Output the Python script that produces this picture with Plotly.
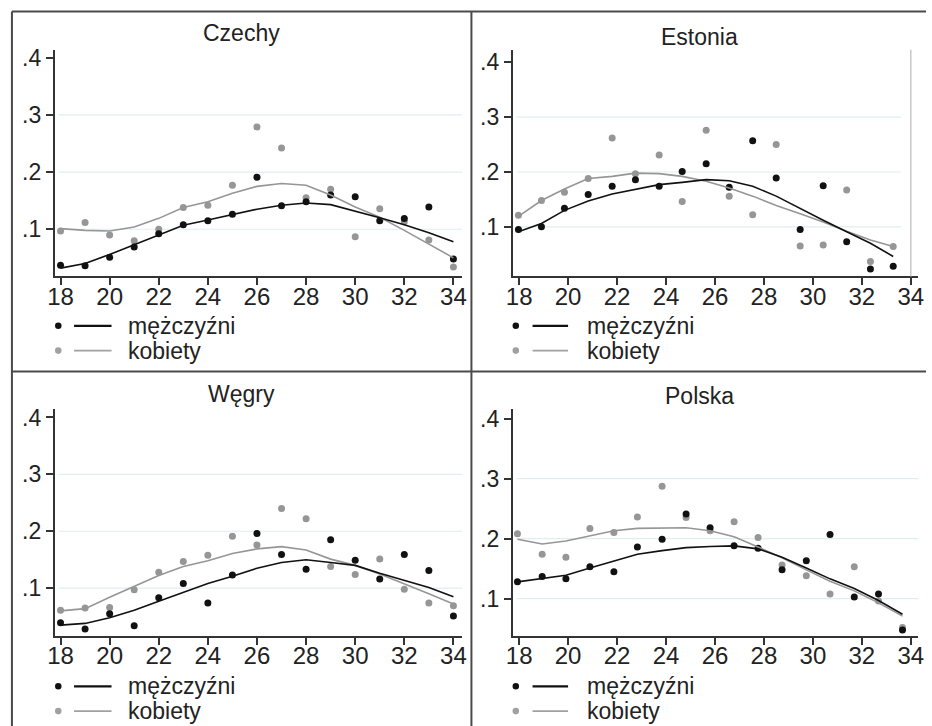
import plotly.graph_objects as go

W, H = 932, 726

# ---------------- data ----------------
panel_titles = ["Czechy", "Estonia", "Węgry", "Polska"]
legend_labels = ["mężczyźni", "kobiety"]
x_ticks = [18, 20, 22, 24, 26, 28, 30, 32, 34]
y_ticks = [0.1, 0.2, 0.3, 0.4]
y_tick_text = [".1", ".2", ".3", ".4"]
grid_vals = [0.1, 0.2, 0.3]

age_int = [18, 19, 20, 21, 22, 23, 24, 25, 26, 27, 28, 29, 30, 31, 32, 33, 34]
age_est = [17.97, 18.91, 19.85, 20.82, 21.80, 22.75, 23.72, 24.66, 25.64, 26.58,
           27.54, 28.50, 29.48, 30.42, 31.38, 32.35, 33.28]
age_pol = [17.93, 18.94, 19.91, 20.89, 21.87, 22.83, 23.84, 24.82, 25.80, 26.78,
           27.76, 28.74, 29.73, 30.70, 31.69, 32.68, 33.66]

cz_men = [0.037, 0.036, 0.051, 0.069, 0.092, 0.108, 0.115, 0.126, 0.191, 0.141,
          0.148, 0.160, 0.157, 0.115, 0.119, 0.139, 0.048]
cz_women = [0.097, 0.112, 0.090, 0.080, 0.100, 0.138, 0.142, 0.177, 0.279, 0.242,
            0.155, 0.170, 0.087, 0.136, 0.113, 0.081, 0.034]
cz_men_fit = [0.032, 0.040, 0.056, 0.073, 0.091, 0.107, 0.116, 0.126, 0.135, 0.142,
              0.146, 0.143, 0.132, 0.120, 0.108, 0.094, 0.078]
cz_women_fit = [0.101, 0.098, 0.097, 0.104, 0.119, 0.138, 0.148, 0.163, 0.175, 0.180,
                0.177, 0.160, 0.139, 0.121, 0.098, 0.074, 0.050]

ee_men = [0.095, 0.100, 0.134, 0.159, 0.174, 0.186, 0.174, 0.201, 0.215, 0.172,
          0.257, 0.189, 0.095, 0.175, 0.073, 0.023, 0.028]
ee_women = [0.121, 0.148, 0.163, 0.188, 0.262, 0.197, 0.231, 0.146, 0.276, 0.156,
            0.122, 0.250, 0.065, 0.067, 0.167, 0.037, 0.064]
ee_men_fit = [0.091, 0.106, 0.130, 0.147, 0.160, 0.168, 0.177, 0.181, 0.186, 0.184,
              0.174, 0.156, 0.133, 0.112, 0.091, 0.070, 0.046]
ee_women_fit = [0.119, 0.148, 0.169, 0.188, 0.192, 0.198, 0.197, 0.192, 0.183, 0.171,
                0.156, 0.139, 0.124, 0.109, 0.092, 0.076, 0.064]

hu_men = [0.039, 0.028, 0.055, 0.034, 0.083, 0.108, 0.074, 0.123, 0.196, 0.159,
          0.133, 0.185, 0.149, 0.116, 0.159, 0.131, 0.051]
hu_women = [0.061, 0.065, 0.066, 0.097, 0.128, 0.147, 0.158, 0.191, 0.176, 0.240,
            0.222, 0.138, 0.124, 0.151, 0.098, 0.074, 0.069]
hu_men_fit = [0.035, 0.038, 0.048, 0.061, 0.077, 0.093, 0.108, 0.121, 0.135, 0.145,
              0.150, 0.145, 0.140, 0.126, 0.113, 0.101, 0.085]
hu_women_fit = [0.060, 0.064, 0.084, 0.103, 0.122, 0.138, 0.148, 0.161, 0.169, 0.173,
                0.167, 0.151, 0.140, 0.125, 0.108, 0.090, 0.072]

pl_men = [0.128, 0.137, 0.133, 0.153, 0.145, 0.186, 0.199, 0.241, 0.218, 0.188,
          0.184, 0.148, 0.163, 0.207, 0.103, 0.108, 0.048]
pl_women = [0.208, 0.174, 0.169, 0.217, 0.210, 0.236, 0.287, 0.235, 0.213, 0.228,
            0.202, 0.156, 0.138, 0.108, 0.153, 0.096, 0.052]
pl_men_fit = [0.128, 0.134, 0.139, 0.151, 0.163, 0.174, 0.180, 0.185, 0.187, 0.188,
              0.183, 0.169, 0.151, 0.133, 0.117, 0.097, 0.074]
pl_women_fit = [0.199, 0.191, 0.196, 0.205, 0.213, 0.217, 0.218, 0.218, 0.213, 0.203,
                0.186, 0.168, 0.148, 0.129, 0.113, 0.093, 0.071]

panel_x = [age_int, age_est, age_int, age_pol]
panel_men = [cz_men, ee_men, hu_men, pl_men]
panel_women = [cz_women, ee_women, hu_women, pl_women]
panel_men_fit = [cz_men_fit, ee_men_fit, hu_men_fit, pl_men_fit]
panel_women_fit = [cz_women_fit, ee_women_fit, hu_women_fit, pl_women_fit]

# ---------------- layout geometry (pixels) ----------------
# (x_left, x_right, y_top, y_bottom, xrange, yrange)
geom = [
    (48.3, 461.7, 45.0, 273.3, [17.76, 34.36], [0.0175, 0.414]),
    (512.7, 924.3, 45.0, 273.3, [17.73, 34.31], [0.0096, 0.423]),
    (48.3, 461.7, 407.3, 635.3, [17.76, 34.36], [0.016, 0.414]),
    (512.7, 924.3, 407.3, 635.3, [17.73, 34.31], [0.038, 0.415]),
]
title_pos = [(238, 28.5), (702, 32.5), (238, 392), (702, 394)]
legend_pos = [(52, 68, 106, 121, 323, 348), (516, 533, 569, 586, 323, 348),
              (52, 68, 106, 121, 686, 711), (516, 533, 569, 586, 686, 711)]

BLACK = "#111111"
GREY = "#969696"
TXT = "#222222"
AXC = "#333333"
FONT = "Liberation Sans, Arial, sans-serif"


def px(x):
    return x / W


def py(y):
    return 1 - y / H


fig = go.Figure()
layout = dict(width=W, height=H, margin=dict(l=0, r=0, t=0, b=0),
              paper_bgcolor="white", plot_bgcolor="white", showlegend=False,
              font=dict(family=FONT, color=TXT))
shapes = []
annotations = []

for i in range(4):
    n = "" if i == 0 else str(i + 1)
    xa, ya = "x" + n, "y" + n
    xl, xr, yt, yb, xrng, yrng = geom[i]
    layout["xaxis" + n] = dict(domain=[px(xl), px(xr)], range=xrng, anchor=ya,
                               tickvals=x_ticks, ticks="outside", ticklen=7,
                               tickwidth=1.5, tickcolor=AXC, showline=True,
                               linecolor=AXC, linewidth=1.5, showgrid=False,
                               zeroline=False, ticklabelstandoff=-9,
                               tickfont=dict(size=24, color=TXT))
    layout["yaxis" + n] = dict(domain=[py(yb), py(yt)], range=yrng, anchor=xa,
                               tickvals=y_ticks, ticktext=y_tick_text,
                               ticks="outside", ticklen=7, tickwidth=1.5,
                               tickcolor=AXC, showline=True, linecolor=AXC,
                               linewidth=1.5, showgrid=False, zeroline=False,
                               tickfont=dict(size=23, color=TXT))
    for g in grid_vals:
        shapes.append(dict(type="line", xref=xa + " domain", yref=ya,
                           x0=0.01, x1=1 if i != 1 else 0.957, y0=g, y1=g,
                           line=dict(color="#e2eeee", width=1.2), layer="below"))
    # data
    fig.add_trace(go.Scatter(x=panel_x[i], y=panel_women[i], mode="markers",
                             marker=dict(color=GREY, size=7), xaxis=xa, yaxis=ya))
    fig.add_trace(go.Scatter(x=panel_x[i], y=panel_men[i], mode="markers",
                             marker=dict(color=BLACK, size=7), xaxis=xa, yaxis=ya))
    fig.add_trace(go.Scatter(x=panel_x[i], y=panel_women_fit[i], mode="lines",
                             line=dict(color=GREY, width=1.6), xaxis=xa, yaxis=ya))
    fig.add_trace(go.Scatter(x=panel_x[i], y=panel_men_fit[i], mode="lines",
                             line=dict(color=BLACK, width=1.6), xaxis=xa, yaxis=ya))
    # title
    tx, ty = title_pos[i]
    annotations.append(dict(text=panel_titles[i], x=px(tx), y=py(ty), xref="paper",
                            yref="paper", showarrow=False, xanchor="center",
                            yanchor="middle", font=dict(size=23, color=TXT)))
    # legend
    dx, l0, l1, tx0, r1, r2 = legend_pos[i]
    for (ry, col, lw, lab) in [(r1, BLACK, 2.2, legend_labels[0]),
                               (r2, "#a0a0a0", 1.6, legend_labels[1])]:
        shapes.append(dict(type="circle", xref="paper", yref="paper",
                           x0=px(dx - 3.3), x1=px(dx + 3.3), y0=py(ry + 3.3),
                           y1=py(ry - 3.3), fillcolor=col, line=dict(width=0)))
        shapes.append(dict(type="line", xref="paper", yref="paper",
                           x0=px(l0), x1=px(l1), y0=py(ry), y1=py(ry),
                           line=dict(color=col, width=lw)))
        annotations.append(dict(text=lab, x=px(tx0), y=py(ry), xref="paper",
                                yref="paper", showarrow=False, xanchor="left",
                                yanchor="middle", font=dict(size=23, color=TXT)))

# Estonia vertical reference line at 34
shapes.append(dict(type="line", xref="x2", yref="y2 domain", x0=34, x1=34,
                   y0=0, y1=1, line=dict(color="#c8c8c8", width=1.5)))

# panel frames
FR = "#4a4a4a"
for (x0, y0, x1, y1) in [(5, 6.5, 932, 6.5), (5, 6.5, 5, 726),
                         (471, 6.5, 471, 726), (5, 369, 932, 369)]:
    shapes.append(dict(type="line", xref="paper", yref="paper",
                       x0=px(x0), x1=px(x1), y0=py(y0), y1=py(y1),
                       line=dict(color=FR, width=2)))

layout["shapes"] = shapes
layout["annotations"] = annotations
fig.update_layout(**layout)
fig.write_html("out.html")
